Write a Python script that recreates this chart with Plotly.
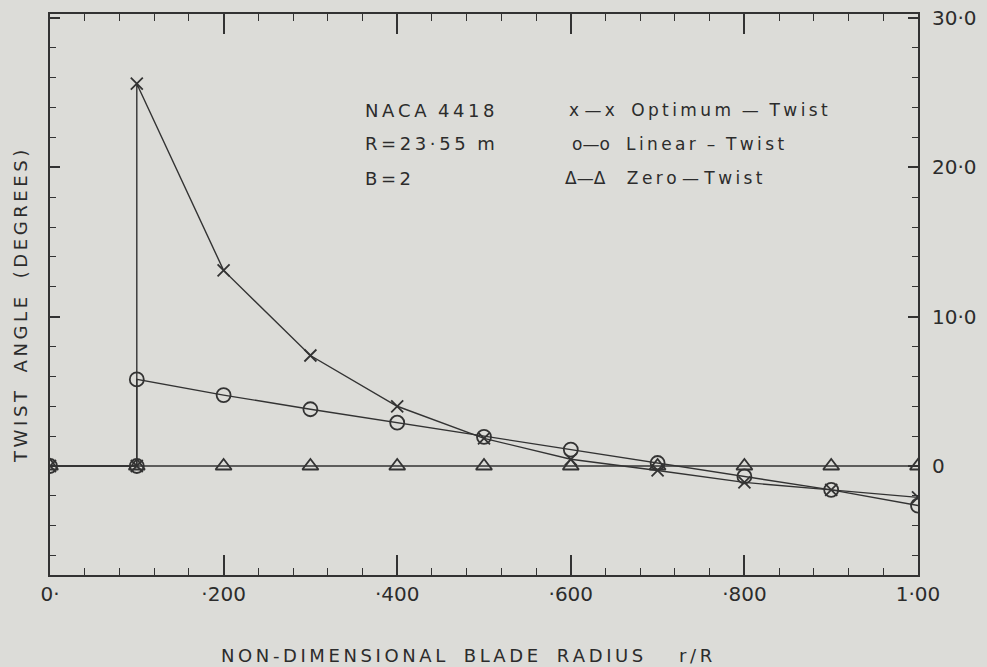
import plotly.graph_objects as go

# ---- data ----
r_opt = [0, 0.1, 0.1, 0.2, 0.3, 0.4, 0.5, 0.6, 0.7, 0.8, 0.9, 1.0]
twist_opt = [0, 0, 25.6, 13.1, 7.4, 4.0, 1.85, 0.45, -0.3, -1.1, -1.6, -2.1]

r_lin = [0, 0.1, 0.1, 0.2, 0.3, 0.4, 0.5, 0.6, 0.7, 0.8, 0.9, 1.0]
twist_lin = [0, 0, 5.8, 4.75, 3.8, 2.9, 1.95, 1.1, 0.2, -0.7, -1.6, -2.65]

r_zero = [0, 0.1, 0.2, 0.3, 0.4, 0.5, 0.6, 0.7, 0.8, 0.9, 1.0]
twist_zero = [0, 0, 0, 0, 0, 0, 0, 0, 0, 0, 0]

x_tickvals = [0, 0.2, 0.4, 0.6, 0.8, 1.0]
x_ticktext = ["0·", "·200", "·400", "·600", "·800", "1·00"]
y_tickvals = [0, 10, 20, 30]
y_ticktext = ["0", "10·0", "20·0", "30·0"]

INK = "#333333"
TXT = "#2c2c2c"
PAPER = "#dcdcd8"
FONT = "DejaVu Sans"
TS = "\u2009"  # thin space used for the letter-spaced lettering of the original


def spaced(word):
    return TS.join(list(word))


def spaced_words(words, gap):
    return gap.join(spaced(w) for w in words)


fig = go.Figure()
fig.add_trace(go.Scatter(
    x=r_opt, y=twist_opt, mode="lines+markers", name="Optimum - Twist",
    line=dict(color=INK, width=1.4),
    marker=dict(symbol="x-thin-open", size=12, line=dict(color=INK, width=1.8), color=INK),
))
fig.add_trace(go.Scatter(
    x=r_lin, y=twist_lin, mode="lines+markers", name="Linear - Twist",
    line=dict(color=INK, width=1.4),
    marker=dict(symbol="circle-open", size=14, line=dict(color=INK, width=1.8), color=INK),
))
fig.add_trace(go.Scatter(
    x=r_zero, y=twist_zero, mode="lines+markers", name="Zero - Twist",
    line=dict(color=INK, width=1.4),
    marker=dict(symbol="triangle-up-open", size=14, line=dict(color=INK, width=1.8), color=INK),
))

fig.update_layout(
    width=987, height=667,
    margin=dict(l=50, r=69, t=14, b=92),
    paper_bgcolor=PAPER, plot_bgcolor=PAPER,
    showlegend=False,
    font=dict(family=FONT, color=TXT),
    xaxis=dict(
        range=[0, 1.0], showgrid=False, zeroline=False, automargin=False,
        showline=True, linecolor=INK, linewidth=2, mirror="allticks",
        ticks="inside", ticklen=20, tickwidth=1.5, tickcolor=INK,
        tickvals=x_tickvals, ticktext=x_ticktext,
        tickfont=dict(size=20, color=TXT, family=FONT),
        minor=dict(dtick=0.04, ticks="inside", ticklen=7, tickwidth=1.3, tickcolor=INK),
    ),
    yaxis=dict(
        range=[-7.3, 30.27], showgrid=False, zeroline=False, side="right", automargin=False,
        showline=True, linecolor=INK, linewidth=2, mirror="allticks",
        ticks="inside", ticklen=10, tickwidth=1.5, tickcolor=INK,
        tickvals=y_tickvals, ticktext=y_ticktext, ticklabelstandoff=8,
        tickfont=dict(size=20, color=TXT, family=FONT),
        minor=dict(dtick=2, ticks="inside", ticklen=6, tickwidth=1.3, tickcolor=INK),
    ),
)

PL, PT, PW, PH = 50, 14, 868, 561


def px(xx):
    return (xx - PL) / PW


def py(yy):
    return 1 - (yy - PT) / PH


y_title = spaced_words(["TWIST", "ANGLE", "(DEGREES)"], TS + "  " + TS)
x_title = (spaced_words(["NON-DIMENSIONAL", "BLADE", "RADIUS"], TS + "  " + TS)
           + TS + "     " + TS + spaced("r/R"))

fig.add_annotation(text=y_title, xref="paper", yref="paper", x=px(20), y=py(307),
                   xanchor="center", yanchor="middle", textangle=-90, showarrow=False,
                   font=dict(size=18, color=TXT, family=FONT))
fig.add_annotation(text=x_title, xref="paper", yref="paper", x=px(466), y=py(655),
                   xanchor="center", yanchor="middle", showarrow=False,
                   font=dict(size=18, color=TXT, family=FONT))

left_notes = [
    (spaced("NACA") + "  " + spaced("4418"), 110),
    (spaced("R=23·55") + "  " + "m", 144),
    (spaced("B=2"), 178),
]
for txt, yy in left_notes:
    fig.add_annotation(text=txt, xref="paper", yref="paper", x=px(363), y=py(yy),
                       xanchor="left", yanchor="middle", showarrow=False,
                       font=dict(size=18, color=TXT, family=FONT))

legend_notes = [
    ("x —" + TS + "x   " + spaced("Optimum") + "  —  " + spaced("Twist"), 567, 110),
    ("o—o   " + spaced("Linear") + "  –  " + spaced("Twist"), 570, 144),
    ("Δ—Δ    " + spaced("Zero") + " — " + spaced("Twist"), 563, 178),
]
for txt, xx, yy in legend_notes:
    fig.add_annotation(text=txt, xref="paper", yref="paper", x=px(xx), y=py(yy),
                       xanchor="left", yanchor="middle", showarrow=False,
                       font=dict(size=17, color=TXT, family=FONT))

fig.write_html("out.html", config={"displayModeBar": False},
               post_script="document.body.style.margin='0';document.body.style.overflow='hidden';")
